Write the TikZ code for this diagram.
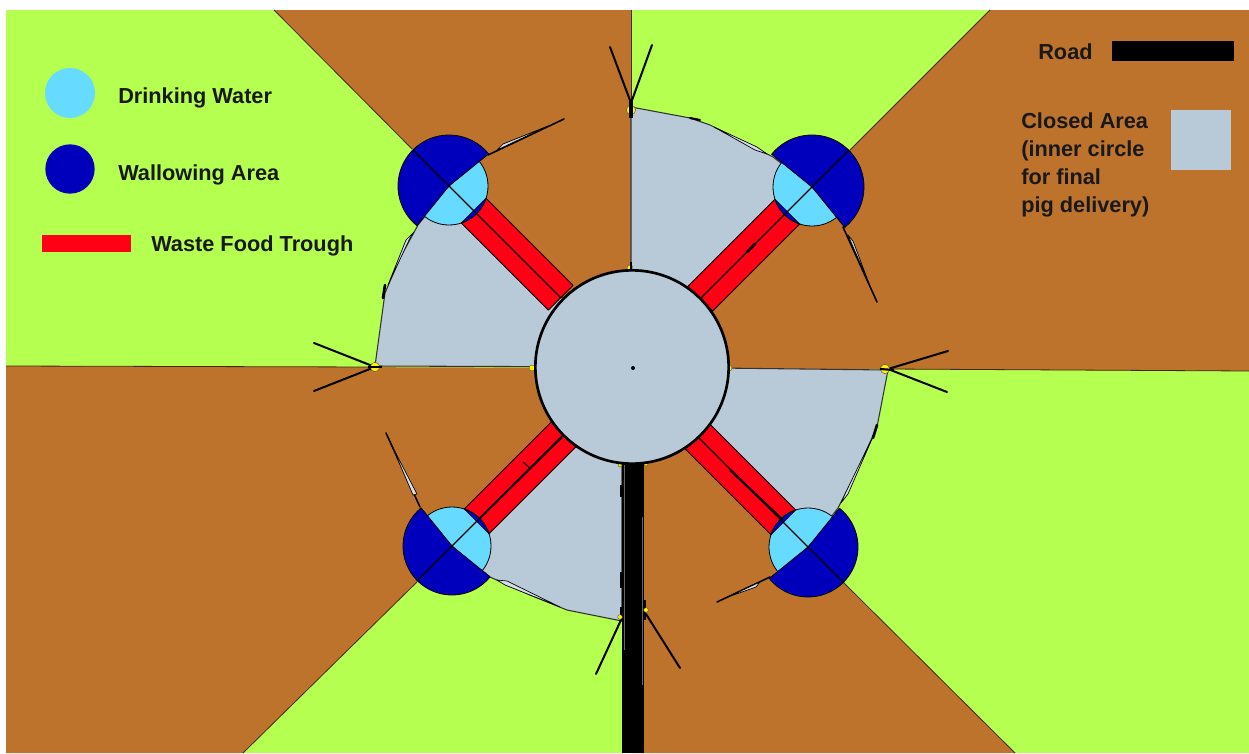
\documentclass[tikz,border=0pt]{standalone}
\usepackage{fontspec}
\setmainfont{Liberation Sans}
\definecolor{pengreen}{RGB}{181,255,80}
\definecolor{penbrown}{RGB}{190,115,45}
\definecolor{closedgrey}{RGB}{184,202,215}
\definecolor{waterblue}{RGB}{102,219,255}
\definecolor{wallowblue}{RGB}{0,0,188}
\definecolor{troughred}{RGB}{255,0,20}
\newcommand{\wallowunit}[4]{%
  \begin{scope}[shift={(#1,#2)},rotate=#3]
    \filldraw[edge,fill=waterblue] (0,-39) arc[start angle=-90,end angle=90,radius=39] -- cycle;
    \filldraw[edge,fill=troughred] (34.9,-17.5) -- (158,-17.5) -- (158,17.5) -- (34.9,17.5)
      arc[start angle=26.6,end angle=-26.6,radius=39] -- cycle;
    \filldraw[edge,fill=blue!85!black] (34.9,-17.5) arc[start angle=-26.6,end angle=26.6,radius=39] -- cycle;
    \filldraw[edge,fill=wallowblue] (-84:#4) arc[start angle=-84,end angle=-276,radius=#4] -- (0,0) -- cycle;
    \draw[edge,line width=0.9pt] (-#4,0) -- (158,0);
  \end{scope}}
\begin{document}
\begin{tikzpicture}[x=0.75pt,y=-0.75pt,
  edge/.style={draw=black, line width=0.6pt, line join=round},
  border/.style={draw=black!65!penbrown, line width=0.6pt},
  closed/.style={draw=black!80, line width=0.8pt, fill=closedgrey, line join=round},
  wire/.style={draw=black, line width=1.5pt, line cap=round},
  spur/.style={draw=black, line width=1.2pt, line cap=round},
  sliver/.style={draw=black, line width=0.5pt, fill=closedgrey!60!white, line join=round},
  gate/.style={draw=black!70, line width=0.3pt, fill=yellow, circle, minimum size=7pt, inner sep=0pt},
  legend/.style={font=\bfseries\fontsize{16.3}{21.2}\selectfont, text=black!90, inner sep=0pt, anchor=west, align=left}
]
  \useasboundingbox (0,0) rectangle (1249,753);
  \fill[white] (0,0) rectangle (1249,753);
  \fill[pengreen] (6,10) rectangle (1249,753);

  % paddocks
  \fill[penbrown] (274,10) -- (631,10) -- (631,368) -- (412,149) -- cycle;
  \fill[penbrown] (990,10) -- (1249,10) -- (1249,371) -- (632,368) -- (850,150) -- cycle;
  \fill[penbrown] (6,366) -- (632,368) -- (417,582) -- (243,753) -- (6,753) -- cycle;
  \fill[penbrown] (632,368) -- (843,582) -- (1015,753) -- (632,753) -- cycle;
  \draw[border] (274,10) -- (412,149);
  \draw[border] (990,10) -- (850,150);
  \draw[border] (417,582) -- (243,753);
  \draw[border] (843,582) -- (1015,753);
  \draw[border] (6,366) -- (375,367);
  \draw[border] (888,369) -- (1249,371);
  \draw[border] (631,10) -- (631,105);

  % closed areas
  \filldraw[closed] (375,366) -- (632,367) -- (449,186) -- (418,225) -- (400,258) -- (385,293) -- cycle;
  \filldraw[closed] (631,107) -- (690,118) -- (710,125) -- (773,157) -- (812,187) -- (632,367) -- (631,270) -- cycle;
  \filldraw[closed] (632,367) -- (888,370) -- (877,427) -- (860,465) -- (838,508) -- (808,547) -- cycle;
  \filldraw[closed] (622,367) -- (632,367) -- (452,546) -- (490,577) -- (530,595) -- (567,610) -- (622,621) -- cycle;

  % spurs
  \draw[spur] (488,155) -- (564,119);
  \filldraw[sliver] (497,150) -- (503,144) -- (548,126) -- cycle;
  \draw[spur] (843,227) -- (877,302);
  \filldraw[sliver] (848,235) -- (853,241) -- (870,286) -- cycle;
  \draw[spur] (420,507) -- (386,433);
  \filldraw[sliver] (413,495) -- (417,494) -- (392,446) -- cycle;
  \draw[spur] (770,577) -- (717,602);
  \filldraw[sliver] (760,582) -- (756,587) -- (728,597) -- cycle;
  \filldraw[sliver] (414,232) -- (410,238) -- (388,285) -- (406,240) -- cycle;
  \filldraw[sliver] (767,154) -- (757,147) -- (714,127) -- (755,150) -- cycle;
  \filldraw[sliver] (841,503) -- (845,494) -- (875,432) -- (848,494) -- cycle;
  \filldraw[sliver] (497,580) -- (505,585) -- (560,607) -- (507,581) -- cycle;
  \draw[wire,line width=2pt] (385,285) -- (383,298);
  \draw[wire,line width=2pt] (877,425) -- (873,438);
  \draw[wire,line width=1.6pt] (690,118) -- (700,120);

  % road
  \fill[black] (622,462) rectangle (644,753);
  \draw[draw=black!60,line width=0.7pt] (624,465) -- (624,650);
  \draw[draw=black!60,line width=0.7pt] (642,517) -- (642,685);
  \draw[black,line width=2pt] (621,485) -- (621,497) (621,572) -- (621,588) (621,607) -- (621,620) (645,600) -- (645,620);

  % gates
  \draw[wire] (631,103) -- (610,47);
  \draw[wire] (631,103) -- (652,45);
  \draw[wire] (375,367) -- (314,343);
  \draw[wire] (375,367) -- (314,391);
  \draw[wire] (888,369) -- (948,351);
  \draw[wire] (888,369) -- (947,392);
  \draw[wire] (621,620) -- (596,674);
  \draw[wire] (646,614) -- (680,668);
  \node[gate] (gatetop) at (631,110) {};
  \node[gate] (gateleft) at (375,367) {};
  \node[gate] (gateright) at (885,369) {};
  \node[gate,minimum size=3.5pt] (gatebottomleft) at (620,617) {};
  \node[gate,minimum size=3.5pt] (gatebottomright) at (646,610) {};
  \node[gate,minimum size=4.5pt] (gatehubtop) at (630,268) {};
  \node[gate,minimum size=4.5pt] (gatehubleft) at (532,368) {};
  \node[gate,minimum size=4.5pt] (gatehubright) at (729,368) {};
  \node[gate,minimum size=3pt] (gatehubroadl) at (620,465) {};
  \node[gate,minimum size=3pt] (gatehubroadr) at (646,464) {};
  \draw[black,line width=2.4pt] (631,100) -- (631,118);
  \draw[black,line width=1.8pt] (631,262) -- (631,270);
  \draw[black,line width=1.6pt] (368,367) -- (382,367);
  \draw[black,line width=1.6pt] (880,369) -- (894,370);

  % wallows and troughs
  \wallowunit{449}{186}{-45}{51}
  \wallowunit{812}{187}{-135}{52}
  \wallowunit{452}{546}{45}{49}
  \wallowunit{808}{547}{135}{50}
  \draw[black,line width=2pt] (747,252) -- (755,244);
  \draw[black,line width=1.6pt] (730,470) -- (783,520);
  \draw[black,line width=1.4pt] (562,437) -- (478,520);
  \draw[black,line width=0.8pt] (523,462) -- (531,469);

  % hub
  \node[circle, draw=black, line width=2pt, fill=closedgrey, minimum size=145pt, inner sep=0pt] (hub) at (632,367) {};
  \fill[black] (633,368) circle[radius=2];

  % legend
  \node[circle, fill=waterblue, minimum size=37.5pt, inner sep=0pt] (legwater) at (70,93) {};
  \node[circle, fill=wallowblue, minimum size=37pt, inner sep=0pt] (legwallow) at (70,169) {};
  \node[legend] (txtwater) at (118,98) {Drinking Water};
  \node[legend] (txtwallow) at (118,175) {Wallowing Area};
  \fill[troughred] (42,235) rectangle (131,252);
  \node[legend] (txttrough) at (151,246) {Waste Food Trough};
  \node[legend] (txtroad) at (1038,52) {Road};
  \node[legend] (txtclosed) at (1021,165) {Closed Area\\(inner circle\\for final\\pig delivery)};
  \fill[black] (1112,41) rectangle (1234,61);
  \fill[closedgrey] (1171,110) rectangle (1231,170);
\end{tikzpicture}
\end{document}
